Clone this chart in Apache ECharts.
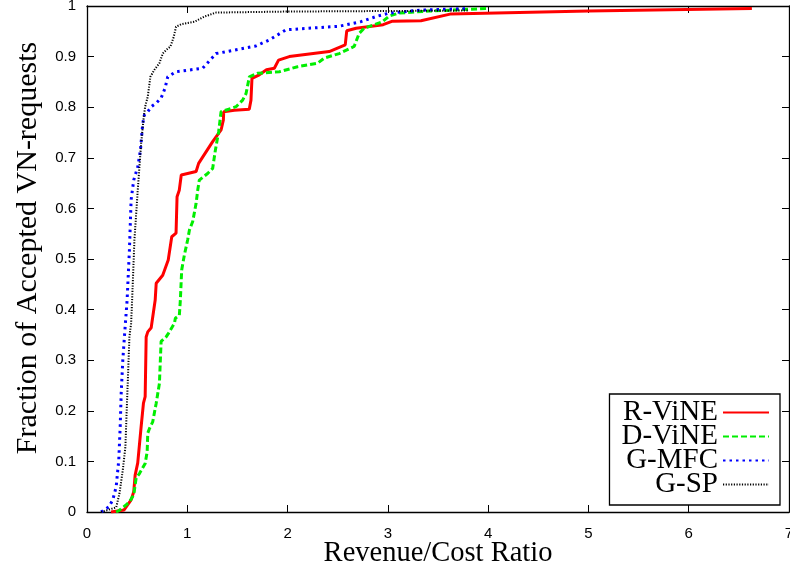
<!DOCTYPE html>
<html>
<head>
<meta charset="utf-8">
<script src="https://cdn.jsdelivr.net/npm/echarts@6/dist/echarts.min.js"></script>
<style>
html,body{margin:0;padding:0;background:#fff;}
#chart{width:790px;height:571px;}
</style>
</head>
<body>
<div id="chart"></div>
<script>
var seriesNames = ['R-ViNE', 'D-ViNE', 'G-MFC', 'G-SP'];
var xTicks = [0, 1, 2, 3, 4, 5, 6, 7];
var yTicks = [0, 0.1, 0.2, 0.3, 0.4, 0.5, 0.6, 0.7, 0.8, 0.9, 1];

var rVine = [
  [0.24,0],[0.37,0.004],[0.44,0.024],[0.466,0.040],[0.48,0.073],[0.506,0.097],[0.54,0.169],
  [0.563,0.215],[0.58,0.228],[0.59,0.346],[0.606,0.356],[0.64,0.364],[0.68,0.419],[0.69,0.452],
  [0.755,0.468],[0.81,0.498],[0.845,0.544],[0.888,0.551],[0.898,0.623],[0.92,0.636],[0.94,0.666],
  [1.088,0.673],[1.113,0.689],[1.253,0.732],[1.337,0.755],[1.36,0.775],[1.363,0.791],[1.469,0.794],
  [1.618,0.796],[1.635,0.814],[1.645,0.857],[1.718,0.864],[1.79,0.874],[1.868,0.877],[1.91,0.893],
  [2.017,0.900],[2.415,0.910],[2.575,0.923],[2.59,0.951],[2.684,0.956],[2.953,0.963],[3.046,0.970],
  [3.33,0.971],[3.62,0.984],[5.0,0.990],[6.63,0.995]
];
var dVine = [
  [0.29,0],[0.32,0.003],[0.39,0.014],[0.423,0.020],[0.466,0.034],[0.49,0.067],[0.523,0.076],
  [0.58,0.096],[0.60,0.119],[0.606,0.156],[0.623,0.165],[0.655,0.178],[0.69,0.215],[0.722,0.254],
  [0.739,0.337],[0.789,0.346],[0.812,0.353],[0.872,0.373],[0.881,0.383],[0.921,0.389],[0.931,0.419],
  [0.944,0.478],[0.971,0.508],[1.004,0.538],[1.021,0.557],[1.054,0.574],[1.088,0.610],[1.104,0.636],
  [1.12,0.656],[1.203,0.669],[1.253,0.679],[1.28,0.715],[1.313,0.752],[1.337,0.791],[1.486,0.801],
  [1.552,0.814],[1.586,0.827],[1.619,0.860],[1.70,0.867],[1.917,0.870],[2.10,0.880],[2.30,0.887],
  [2.365,0.897],[2.515,0.906],[2.664,0.920],[2.714,0.946],[2.764,0.956],[2.946,0.969],[3.013,0.980],
  [3.11,0.986],[3.41,0.990],[3.99,0.995]
];
var gMfc = [
  [0.14,0],[0.217,0.010],[0.257,0.024],[0.291,0.050],[0.317,0.103],[0.331,0.169],[0.341,0.235],
  [0.357,0.300],[0.373,0.346],[0.40,0.419],[0.423,0.518],[0.44,0.617],[0.466,0.656],[0.506,0.682],
  [0.533,0.715],[0.556,0.768],[0.573,0.785],[0.606,0.791],[0.64,0.801],[0.689,0.808],[0.739,0.818],
  [0.779,0.838],[0.805,0.860],[0.888,0.870],[1.153,0.877],[1.287,0.906],[1.552,0.916],[1.685,0.921],
  [1.818,0.933],[1.984,0.953],[2.515,0.960],[2.731,0.969],[2.88,0.979],[3.013,0.986],[3.34,0.992],
  [3.81,0.995]
];
var gSp = [
  [0.14,0],[0.291,0.009],[0.324,0.037],[0.357,0.083],[0.383,0.129],[0.396,0.202],[0.406,0.254],
  [0.423,0.346],[0.44,0.373],[0.45,0.419],[0.473,0.538],[0.506,0.636],[0.54,0.729],[0.566,0.781],
  [0.58,0.801],[0.606,0.821],[0.632,0.860],[0.672,0.874],[0.722,0.887],[0.755,0.906],[0.789,0.913],
  [0.832,0.920],[0.865,0.939],[0.888,0.959],[0.938,0.964],[1.071,0.969],[1.17,0.979],[1.287,0.987],
  [1.984,0.989],[3.81,0.991]
];

var chart = echarts.init(document.getElementById('chart'), null, {renderer: 'canvas'});
var axisLineStyle = {color: '#000', width: 1.3};
var labelFont = {color: '#000', fontFamily: 'Liberation Sans', fontSize: 15};
var serif = 'Liberation Serif';

function mkSeries(name, data, color, width, dash) {
  return {
    name: name, type: 'line', data: data, symbol: 'none', smooth: false,
    xAxisIndex: 0, yAxisIndex: 0,
    lineStyle: {color: color, width: width, type: dash, cap: 'butt'},
    itemStyle: {color: color},
    animation: false
  };
}

var option = {
  backgroundColor: '#fff',
  animation: false,
  grid: {left: 87, right: 1, top: 6, bottom: 59, containLabel: false, outerBoundsMode: 'none'},
  xAxis: [{
    type: 'value', min: xTicks[0], max: xTicks[xTicks.length-1], interval: 1,
    position: 'bottom',
    name: 'Revenue/Cost Ratio', nameLocation: 'middle', nameGap: 27, nameMoveOverlap: false,
    nameTextStyle: {fontFamily: serif, fontSize: 28.5, color: '#000'},
    axisLine: {show: true, onZero: false, lineStyle: axisLineStyle},
    axisTick: {show: true, inside: true, length: 7, lineStyle: {color: '#000'}},
    axisLabel: Object.assign({margin: 14, showMaxLabel: true, hideOverlap: false}, labelFont),
    splitLine: {show: false}
  }, {
    type: 'value', min: xTicks[0], max: xTicks[xTicks.length-1], interval: 1,
    position: 'top',
    axisLine: {show: true, onZero: false, lineStyle: axisLineStyle},
    axisTick: {show: true, inside: true, length: 7, lineStyle: {color: '#000'}},
    axisLabel: {show: false}, splitLine: {show: false}
  }],
  yAxis: [{
    type: 'value', min: yTicks[0], max: yTicks[yTicks.length-1], interval: 0.1,
    position: 'left',
    name: 'Fraction of Accepted VN-requests', nameLocation: 'middle', nameGap: 44,
    nameTextStyle: {fontFamily: serif, fontSize: 30, color: '#000', padding: [0, 0, 0, 22]},
    axisLine: {show: true, onZero: false, lineStyle: axisLineStyle},
    axisTick: {show: true, inside: true, length: 7, lineStyle: {color: '#000'}},
    axisLabel: Object.assign({margin: 11, formatter: function(v){return String(+v.toFixed(1));}}, labelFont),
    splitLine: {show: false}
  }, {
    type: 'value', min: yTicks[0], max: yTicks[yTicks.length-1], interval: 0.1,
    position: 'right',
    axisLine: {show: true, onZero: false, lineStyle: axisLineStyle},
    axisTick: {show: true, inside: true, length: 7, lineStyle: {color: '#000'}},
    axisLabel: {show: false}, splitLine: {show: false}
  }],
  legend: {
    orient: 'vertical', align: 'right',
    right: 10, bottom: 66,
    data: seriesNames,
    itemWidth: 46, itemHeight: 14, itemGap: -5,
    padding: [4, 10, 6, 12],
    borderColor: '#000', borderWidth: 1.3, borderRadius: 0,
    backgroundColor: '#fff',
    itemStyle: {opacity: 0},
    textStyle: {fontFamily: serif, fontSize: 29, color: '#000', width: 100, align: 'right'}
  },
  series: [
    mkSeries(seriesNames[0], rVine, '#ff0000', 3, 'solid'),
    mkSeries(seriesNames[1], dVine, '#00ee00', 3, [6, 3]),
    mkSeries(seriesNames[2], gMfc, '#0000ff', 3, [2.5, 4]),
    mkSeries(seriesNames[3], gSp, '#000000', 2, [1.2, 1.5])
  ]
};
chart.setOption(option);
</script>
</body>
</html>
